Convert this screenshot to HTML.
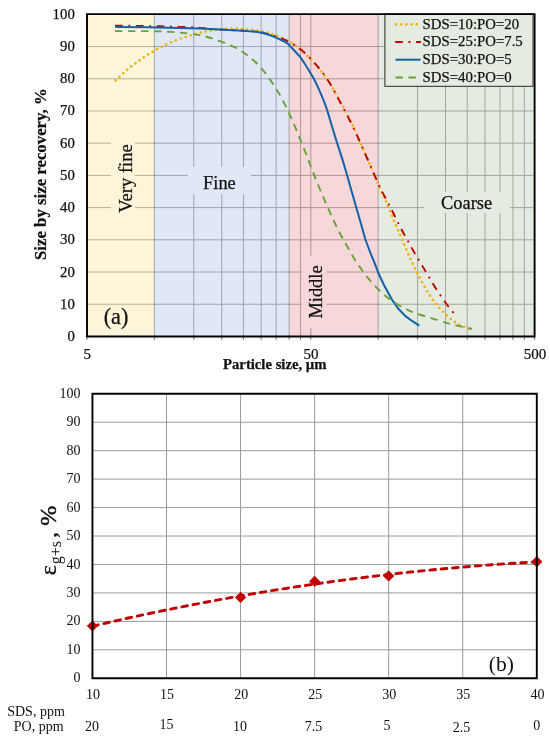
<!DOCTYPE html>
<html><head><meta charset="utf-8"><style>
html,body{margin:0;padding:0;background:#fff;}
svg{display:block;will-change:transform;}
text{font-family:"Liberation Serif",serif;fill:#111;}
.ca text{stroke:#111;stroke-width:0.25px;}
</style></head><body>
<svg width="550" height="740" viewBox="0 0 550 740">
<rect width="550" height="740" fill="#fff"/>
<g class="ca">
<rect x="87" y="14.1" width="67.37" height="322.35" fill="#FDF5DA"/>
<rect x="154.37" y="14.1" width="134.74" height="322.35" fill="#E1E8F5"/>
<rect x="289.11" y="14.1" width="89.06" height="322.35" fill="#F6D8DA"/>
<rect x="378.17" y="14.1" width="156.43" height="322.35" fill="#E5EBE1"/>
<path d="M87,304.24 H154.37 M87,272.03 H154.37 M87,239.82 H154.37 M87,207.61 H154.37 M87,175.4 H154.37 M87,143.19 H154.37 M87,110.98 H154.37 M87,78.77 H154.37 M87,46.56 H154.37" stroke="#b9b196" stroke-width="1" fill="none"/>
<path d="M154.37,304.24 H289.11 M154.37,272.03 H289.11 M154.37,239.82 H289.11 M154.37,207.61 H289.11 M154.37,175.4 H289.11 M154.37,143.19 H289.11 M154.37,110.98 H289.11 M154.37,78.77 H289.11 M154.37,46.56 H289.11 M193.78,14.1 V336.45 M221.74,14.1 V336.45 M243.43,14.1 V336.45 M261.15,14.1 V336.45 M276.13,14.1 V336.45" stroke="#9da4b1" stroke-width="1" fill="none"/>
<path d="M289.11,304.24 H378.17 M289.11,272.03 H378.17 M289.11,239.82 H378.17 M289.11,207.61 H378.17 M289.11,175.4 H378.17 M289.11,143.19 H378.17 M289.11,110.98 H378.17 M289.11,78.77 H378.17 M289.11,46.56 H378.17 M300.56,14.1 V336.45 M310.8,14.1 V336.45" stroke="#b29496" stroke-width="1" fill="none"/>
<path d="M378.17,304.24 H534.6 M378.17,272.03 H534.6 M378.17,239.82 H534.6 M378.17,207.61 H534.6 M378.17,175.4 H534.6 M378.17,143.19 H534.6 M378.17,110.98 H534.6 M378.17,78.77 H534.6 M378.17,46.56 H534.6 M417.58,14.1 V336.45 M445.54,14.1 V336.45 M467.23,14.1 V336.45 M484.95,14.1 V336.45 M499.93,14.1 V336.45 M512.91,14.1 V336.45 M524.36,14.1 V336.45" stroke="#a1a79d" stroke-width="1" fill="none"/>
<path d="M154.37,14.1 V336.45 M289.11,14.1 V336.45 M378.17,14.1 V336.45" stroke="#000" stroke-opacity="0.3" stroke-width="1" fill="none"/>
<path d="M87,336.45 V339.95 M154.37,336.45 V339.95 M193.78,336.45 V339.95 M221.74,336.45 V339.95 M243.43,336.45 V339.95 M261.15,336.45 V339.95 M276.13,336.45 V339.95 M289.11,336.45 V339.95 M300.56,336.45 V339.95 M310.8,336.45 V339.95 M378.17,336.45 V339.95 M417.58,336.45 V339.95 M445.54,336.45 V339.95 M467.23,336.45 V339.95 M484.95,336.45 V339.95 M499.93,336.45 V339.95 M512.91,336.45 V339.95 M524.36,336.45 V339.95 M534.6,336.45 V339.95" stroke="#777" stroke-width="1" fill="none"/>
<rect x="111" y="128" width="24" height="100" fill="#FDF5DA"/>
<rect x="188" y="167" width="63" height="27" fill="#E1E8F5"/>
<rect x="302" y="255.5" width="24.5" height="72.5" fill="#F6D8DA"/>
<rect x="424" y="192" width="86" height="21" fill="#E5EBE1"/>
<text transform="translate(132.4,178.5) rotate(-90)" text-anchor="middle" font-size="18.6">Very fine</text>
<text x="219.4" y="189" text-anchor="middle" font-size="18.4">Fine</text>
<text transform="translate(322,292) rotate(-90)" text-anchor="middle" font-size="18.4">Middle</text>
<text x="466.6" y="209.3" text-anchor="middle" font-size="18.4">Coarse</text>
<text x="116" y="324.4" text-anchor="middle" font-size="22.3">(a)</text>
<path d="M115.7,80.4 C116.3,79.82 118.08,78.05 119.3,76.9 C120.52,75.75 121.75,74.65 123,73.5 C124.25,72.35 125.52,71.12 126.8,70 C128.08,68.88 129.38,67.83 130.7,66.8 C132.02,65.77 133.32,64.82 134.7,63.8 C136.08,62.78 137.62,61.72 139,60.7 C140.38,59.68 141.6,58.67 143,57.7 C144.4,56.73 145.95,55.8 147.4,54.9 C148.85,54 150.27,53.17 151.7,52.3 C153.13,51.43 154.48,50.55 156,49.7 C157.52,48.85 159.27,48 160.8,47.2 C162.33,46.4 163.68,45.63 165.2,44.9 C166.72,44.17 168.33,43.48 169.9,42.8 C171.47,42.12 173.02,41.43 174.6,40.8 C176.18,40.17 177.8,39.58 179.4,39 C181,38.42 182.58,37.83 184.2,37.3 C185.82,36.77 187.47,36.28 189.1,35.8 C190.73,35.32 192.35,34.85 194,34.4 C195.65,33.95 197.35,33.5 199,33.1 C200.65,32.7 202.27,32.35 203.9,32 C205.53,31.65 207.12,31.32 208.8,31 C210.48,30.68 212.25,30.37 214,30.1 C215.75,29.83 217.55,29.6 219.3,29.4 C221.05,29.2 222.03,29.03 224.5,28.9 C226.97,28.77 230.77,28.6 234.1,28.6 C237.43,28.6 241.05,28.65 244.5,28.9 C247.95,29.15 251.42,29.62 254.8,30.1 C258.18,30.58 262.28,31.28 264.8,31.8 C267.32,32.32 268.27,32.68 269.9,33.2 C271.53,33.72 272.67,34.13 274.6,34.9 C276.53,35.67 279.18,36.73 281.5,37.8 C283.82,38.87 286.62,40.3 288.5,41.3 C290.38,42.3 291.1,42.68 292.8,43.8 C294.5,44.92 296.72,46.45 298.7,48 C300.68,49.55 303.03,51.58 304.7,53.1 C306.37,54.62 307.18,55.53 308.7,57.1 C310.22,58.67 312.1,60.63 313.8,62.5 C315.5,64.37 317.28,66.33 318.9,68.3 C320.52,70.27 321.95,72.25 323.5,74.3 C325.05,76.35 326.58,78.13 328.2,80.6 C329.82,83.07 331.53,86.18 333.2,89.1 C334.87,92.02 336.53,95.13 338.2,98.1 C339.87,101.07 341.53,103.87 343.2,106.9 C344.87,109.93 346.62,113.22 348.2,116.3 C349.78,119.38 351.32,122.47 352.7,125.4 C354.08,128.33 355.17,130.88 356.5,133.9 C357.83,136.92 359.27,140.18 360.7,143.5 C362.13,146.82 363.67,150.52 365.1,153.8 C366.53,157.08 367.93,160.1 369.3,163.2 C370.67,166.3 371.98,169.38 373.3,172.4 C374.62,175.42 376,178.4 377.2,181.3 C378.4,184.2 379.5,187.47 380.5,189.8 C381.5,192.13 382.38,193.6 383.2,195.3 C384.02,197 384.73,198.42 385.4,200 C386.07,201.58 386.57,203.17 387.2,204.8 C387.83,206.43 388.5,208.2 389.2,209.8 C389.9,211.4 390.72,212.85 391.4,214.4 C392.08,215.95 392.67,217.55 393.3,219.1 C393.93,220.65 394.55,222.15 395.2,223.7 C395.85,225.25 396.53,226.85 397.2,228.4 C397.87,229.95 398.52,231.47 399.2,233 C399.88,234.53 400.62,236.05 401.3,237.6 C401.98,239.15 402.63,240.73 403.3,242.3 C403.97,243.87 404.63,245.43 405.3,247 C405.97,248.57 406.62,250.1 407.3,251.7 C407.98,253.3 408.7,254.98 409.4,256.6 C410.1,258.22 410.78,259.82 411.5,261.4 C412.22,262.98 412.95,264.57 413.7,266.1 C414.45,267.63 415.25,269.12 416,270.6 C416.75,272.08 417.43,273.52 418.2,275 C418.97,276.48 419.78,277.98 420.6,279.5 C421.42,281.02 422.27,282.62 423.1,284.1 C423.93,285.58 424.75,286.95 425.6,288.4 C426.45,289.85 427.32,291.37 428.2,292.8 C429.08,294.23 429.97,295.6 430.9,297 C431.83,298.4 432.8,299.85 433.8,301.2 C434.8,302.55 435.82,303.82 436.9,305.1 C437.98,306.38 439.13,307.65 440.3,308.9 C441.47,310.15 442.7,311.4 443.9,312.6 C445.1,313.8 446.25,314.97 447.5,316.1 C448.75,317.23 450.05,318.35 451.4,319.4 C452.75,320.45 454.18,321.5 455.6,322.4 C457.02,323.3 458.43,324.05 459.9,324.8 C461.37,325.55 462.88,326.23 464.4,326.9 C465.92,327.57 468.23,328.48 469,328.8" stroke="#EFB300" stroke-width="2.7" stroke-dasharray="0 5.2" stroke-linecap="round" fill="none"/>
<path d="M115,25.6 C117.5,25.63 125,25.73 130,25.8 C135,25.87 140,25.92 145,26 C150,26.08 155,26.18 160,26.3 C165,26.42 170,26.55 175,26.7 C180,26.85 185.83,27 190,27.2 C194.17,27.4 195.83,27.58 200,27.9 C204.17,28.22 210.23,28.75 215,29.1 C219.77,29.45 224.05,29.73 228.6,30 C233.15,30.27 238.2,30.47 242.3,30.7 C246.4,30.93 250.17,31.12 253.2,31.4 C256.23,31.68 258.37,32.03 260.5,32.4 C262.63,32.77 264.08,33.12 266,33.6 C267.92,34.08 269.95,34.73 272,35.3 C274.05,35.87 276.22,36.28 278.3,37 C280.38,37.72 282.5,38.68 284.5,39.6 C286.5,40.52 288.38,41.43 290.3,42.5 C292.22,43.57 294.13,44.73 296,46 C297.87,47.27 299.75,48.67 301.5,50.1 C303.25,51.53 304.87,53.05 306.5,54.6 C308.13,56.15 309.72,57.73 311.3,59.4 C312.88,61.07 314.42,62.78 316,64.6 C317.58,66.42 319.23,68.33 320.8,70.3 C322.37,72.27 323.87,74.18 325.4,76.4 C326.93,78.62 328.48,81.08 330,83.6 C331.52,86.12 333,88.77 334.5,91.5 C336,94.23 337.48,97.18 339,100 C340.52,102.82 342.07,105.5 343.6,108.4 C345.13,111.3 346.68,114.42 348.2,117.4 C349.72,120.38 351.27,123.37 352.7,126.3 C354.13,129.23 355.43,132.05 356.8,135 C358.17,137.95 359.52,140.88 360.9,144 C362.28,147.12 363.7,150.5 365.1,153.7 C366.5,156.9 367.93,160.08 369.3,163.2 C370.67,166.32 371.97,169.37 373.3,172.4 C374.63,175.43 375.98,178.5 377.3,181.4 C378.62,184.3 379.87,187.1 381.2,189.8 C382.53,192.5 383.9,194.93 385.3,197.6 C386.7,200.27 388.17,203.03 389.6,205.8 C391.03,208.57 392.42,211.23 393.9,214.2 C395.38,217.17 396.93,220.5 398.5,223.6 C400.07,226.7 401.67,229.77 403.3,232.8 C404.93,235.83 406.63,238.82 408.3,241.8 C409.97,244.78 411.6,247.77 413.3,250.7 C415,253.63 416.78,256.5 418.5,259.4 C420.22,262.3 421.88,265.22 423.6,268.1 C425.32,270.98 427.07,273.82 428.8,276.7 C430.53,279.58 432.2,282.5 434,285.4 C435.8,288.3 437.73,291.28 439.6,294.1 C441.47,296.92 443.45,299.87 445.2,302.3 C446.95,304.73 448.55,306.78 450.1,308.7 C451.65,310.62 453.77,312.95 454.5,313.8" stroke="#C00000" stroke-width="1.9" stroke-dasharray="7.6 5.7 1.9 5.7" fill="none"/>
<path d="M115.5,27.1 C115.5,27.1 145,27.3 145,27.3 C145,27.3 180,27.9 180,27.9 C180,27.9 200,28.5 200,28.5 C200,28.5 215,29.3 215,29.3 C215,29.3 228.6,30 228.6,30 C228.6,30 242.3,30.7 242.3,30.7 C242.3,30.7 253.2,31.4 253.2,31.4 C253.2,31.4 260.5,32.5 260.5,32.5 C260.5,32.5 265,33.5 265,33.5 C265,33.5 269.5,35 269.5,35 C269.5,35 276.8,37.9 276.8,37.9 C276.8,37.9 284.1,41.5 284.1,41.5 C284.1,41.5 288.5,44.2 288.5,44.2 C288.5,44.2 300,56.7 300,56.7 C300,56.7 306.2,66 306.2,66 C306.2,66 313.6,78.2 313.6,78.2 C313.6,78.2 317.3,85.7 317.3,85.7 C317.3,85.7 320.9,93.8 320.9,93.8 C320.9,93.8 324.5,102.6 324.5,102.6 C324.5,102.6 327.3,110.6 327.3,110.6 C327.3,110.6 331.2,123.8 331.2,123.8 C331.2,123.8 337.1,143 337.1,143 C337.1,143 342.5,159.6 342.5,159.6 C342.5,159.6 346.6,173.5 346.6,173.5 C346.6,173.5 351.6,191.2 351.6,191.2 C351.6,191.2 356,206.5 356,206.5 C356,206.5 360.4,221.8 360.4,221.8 C360.4,221.8 365.4,239.5 365.4,239.5 C365.4,239.5 368,246.5 368,246.5 C368,246.5 371,254.5 371,254.5 C371,254.5 375.5,265.3 375.5,265.3 C375.5,265.3 378.6,273.5 378.6,273.5 C378.6,273.5 383.7,284.5 383.7,284.5 C383.7,284.5 392,299.8 392,299.8 C392,299.8 398.4,308.8 398.4,308.8 C398.4,308.8 405.8,316.4 405.8,316.4 C405.8,316.4 412.4,321.2 412.4,321.2 C412.4,321.2 419.3,325.6 419.3,325.6" stroke="#1262AA" stroke-width="2.0" fill="none"/>
<path d="M115,31.1 C118.33,31.1 128.33,31.08 135,31.1 C141.67,31.12 149.12,31.07 155,31.2 C160.88,31.33 165.6,31.62 170.3,31.9 C175,32.18 178.88,32.45 183.2,32.9 C187.52,33.35 192.48,34 196.2,34.6 C199.92,35.2 202.87,35.87 205.5,36.5 C208.13,37.13 209.92,37.73 212,38.4 C214.08,39.07 215.92,39.77 218,40.5 C220.08,41.23 222.5,42.03 224.5,42.8 C226.5,43.57 228,44.2 230,45.1 C232,46 234.57,47.17 236.5,48.2 C238.43,49.23 239.83,50.15 241.6,51.3 C243.37,52.45 245.45,53.87 247.1,55.1 C248.75,56.33 249.87,57.3 251.5,58.7 C253.13,60.1 255.37,62.02 256.9,63.5 C258.43,64.98 259.25,65.95 260.7,67.6 C262.15,69.25 264.23,71.63 265.6,73.4 C266.97,75.17 267.62,76.38 268.9,78.2 C270.18,80.02 272.12,82.52 273.3,84.3 C274.48,86.08 274.92,87.13 276,88.9 C277.08,90.67 278.72,93.02 279.8,94.9 C280.88,96.78 281.5,98.32 282.5,100.2 C283.5,102.08 284.8,104.2 285.8,106.2 C286.8,108.2 287.6,110.25 288.5,112.2 C289.4,114.15 290.32,115.93 291.2,117.9 C292.08,119.87 292.9,121.93 293.8,124 C294.7,126.07 295.75,128.25 296.6,130.3 C297.45,132.35 298.1,134.28 298.9,136.3 C299.7,138.32 300.6,140.43 301.4,142.4 C302.2,144.37 302.88,146.13 303.7,148.1 C304.52,150.07 305.53,152.22 306.3,154.2 C307.07,156.18 307.58,158.03 308.3,160 C309.02,161.97 309.8,163.95 310.6,166 C311.4,168.05 312.27,170.2 313.1,172.3 C313.93,174.4 314.78,176.57 315.6,178.6 C316.42,180.63 317.2,182.55 318,184.5 C318.8,186.45 319.6,188.37 320.4,190.3 C321.2,192.23 321.95,194.1 322.8,196.1 C323.65,198.1 324.42,199.83 325.5,202.3 C326.58,204.77 328.02,208.03 329.3,210.9 C330.58,213.77 331.83,216.57 333.2,219.5 C334.57,222.43 335.88,225.28 337.5,228.5 C339.12,231.72 340.9,235.15 342.9,238.8 C344.9,242.45 347.37,246.7 349.5,250.4 C351.63,254.1 353.45,257.48 355.7,261 C357.95,264.52 360.45,268.07 363,271.5 C365.55,274.93 368.08,278.25 371,281.6 C373.92,284.95 377.32,288.6 380.5,291.6 C383.68,294.6 386.7,297.13 390.1,299.6 C393.5,302.07 397.53,304.48 400.9,306.4 C404.27,308.32 407.23,309.75 410.3,311.1 C413.37,312.45 416.27,313.47 419.3,314.5 C422.33,315.53 425.42,316.35 428.5,317.3 C431.58,318.25 435.08,319.35 437.8,320.2 C440.52,321.05 442.65,321.75 444.8,322.4 C446.95,323.05 448.63,323.57 450.7,324.1 C452.77,324.63 455.07,325.12 457.2,325.6 C459.33,326.08 461.57,326.57 463.5,327 C465.43,327.43 467.38,327.9 468.8,328.2 C470.22,328.5 471.47,328.7 472,328.8" stroke="#68A23A" stroke-width="1.9" stroke-dasharray="7.4 5.6" fill="none"/>
<rect x="384.9" y="14" width="148.1" height="72.3" fill="#E5EBE1" stroke="#2a2a2a" stroke-width="1"/>
<path d="M396,24.3 H421" stroke="#EFB300" stroke-width="2.7" stroke-dasharray="0 5.2" stroke-linecap="round" fill="none"/>
<path d="M395.2,42.0 H421" stroke="#C00000" stroke-width="1.9" stroke-dasharray="7.6 5.7 1.9 5.7" fill="none"/>
<path d="M395.5,59.7 H420.5" stroke="#1262AA" stroke-width="2.0" fill="none"/>
<path d="M395.5,77.5 H421" stroke="#68A23A" stroke-width="1.9" stroke-dasharray="7.4 5.6" fill="none"/>
<text x="422.6" y="28.7" font-size="14.8">SDS=10:PO=20</text>
<text x="422.6" y="46.4" font-size="14.8">SDS=25:PO=7.5</text>
<text x="422.6" y="64.1" font-size="14.8">SDS=30:PO=5</text>
<text x="422.6" y="81.9" font-size="14.8">SDS=40:PO=0</text>
<path d="M87,14.1 V336.45 H534.6 V14.1 Z" fill="none" stroke="#000" stroke-width="1.9"/>
<text x="74.8" y="341.05" text-anchor="end" font-size="14.8">0</text>
<text x="74.8" y="308.81" text-anchor="end" font-size="14.8">10</text>
<text x="74.8" y="276.58" text-anchor="end" font-size="14.8">20</text>
<text x="74.8" y="244.34" text-anchor="end" font-size="14.8">30</text>
<text x="74.8" y="212.11" text-anchor="end" font-size="14.8">40</text>
<text x="74.8" y="179.88" text-anchor="end" font-size="14.8">50</text>
<text x="74.8" y="147.64" text-anchor="end" font-size="14.8">60</text>
<text x="74.8" y="115.41" text-anchor="end" font-size="14.8">70</text>
<text x="74.8" y="83.17" text-anchor="end" font-size="14.8">80</text>
<text x="74.8" y="50.94" text-anchor="end" font-size="14.8">90</text>
<text x="74.8" y="18.7" text-anchor="end" font-size="14.8">100</text>
<text x="87.3" y="359" text-anchor="middle" font-size="15">5</text>
<text x="311.1" y="359" text-anchor="middle" font-size="15">50</text>
<text x="534.9" y="359" text-anchor="middle" font-size="15">500</text>
<text x="274.8" y="369" text-anchor="middle" font-size="14.7" font-weight="bold">Particle size, µm</text>
<text transform="translate(46.1,174.15) rotate(-90)" text-anchor="middle" font-size="16.8" font-weight="bold">Size by size recovery, %</text>
</g>
<path d="M92.45,649.8 H536.8 M92.45,621.36 H536.8 M92.45,592.91 H536.8 M92.45,564.47 H536.8 M92.45,536.02 H536.8 M92.45,507.58 H536.8 M92.45,479.13 H536.8 M92.45,450.69 H536.8 M92.45,422.25 H536.8 M166.51,393.8 V678.25 M240.57,393.8 V678.25 M314.62,393.8 V678.25 M388.68,393.8 V678.25 M462.74,393.8 V678.25" stroke="#9a9a9a" stroke-width="1" fill="none"/>
<path d="M92.45,626.18 L99.86,624.45 L107.26,622.75 L114.67,621.07 L122.07,619.42 L129.48,617.78 L136.88,616.17 L144.29,614.58 L151.7,613.01 L159.1,611.47 L166.51,609.94 L173.91,608.44 L181.32,606.96 L188.73,605.5 L196.13,604.07 L203.54,602.65 L210.94,601.26 L218.35,599.89 L225.75,598.54 L233.16,597.22 L240.57,595.91 L247.97,594.63 L255.38,593.37 L262.78,592.14 L270.19,590.92 L277.6,589.73 L285,588.56 L292.41,587.41 L299.81,586.28 L307.22,585.18 L314.62,584.09 L322.03,583.03 L329.44,581.99 L336.84,580.98 L344.25,579.98 L351.65,579.01 L359.06,578.06 L366.47,577.13 L373.87,576.22 L381.28,575.34 L388.68,574.48 L396.09,573.64 L403.49,572.82 L410.9,572.02 L418.31,571.25 L425.71,570.5 L433.12,569.77 L440.52,569.06 L447.93,568.38 L455.34,567.71 L462.74,567.07 L470.15,566.45 L477.55,565.85 L484.96,565.28 L492.36,564.72 L499.77,564.19 L507.18,563.68 L514.58,563.2 L521.99,562.73 L529.39,562.29 L536.8,561.87" stroke="#C00000" stroke-width="2.9" stroke-dasharray="5.6 5.8" stroke-dashoffset="11.12" stroke-linecap="round" fill="none"/>
<path d="M92.45,620.4 L98.05,626 L92.45,631.6 L86.85,626 Z" fill="#C00000"/>
<path d="M240.57,591.87 L246.17,597.47 L240.57,603.07 L234.97,597.47 Z" fill="#C00000"/>
<path d="M314.62,575.79 L320.23,581.39 L314.62,586.99 L309.02,581.39 Z" fill="#C00000"/>
<path d="M388.68,570.36 L394.28,575.96 L388.68,581.56 L383.08,575.96 Z" fill="#C00000"/>
<path d="M536.8,556.11 L542.4,561.71 L536.8,567.31 L531.2,561.71 Z" fill="#C00000"/>
<path d="M92.45,393.8 V678.25 H536.8 V393.8 Z" fill="none" stroke="#000" stroke-width="1.9"/>
<text x="80.5" y="682.35" text-anchor="end" font-size="14">0</text>
<text x="80.5" y="653.9" text-anchor="end" font-size="14">10</text>
<text x="80.5" y="625.46" text-anchor="end" font-size="14">20</text>
<text x="80.5" y="597.01" text-anchor="end" font-size="14">30</text>
<text x="80.5" y="568.57" text-anchor="end" font-size="14">40</text>
<text x="80.5" y="540.12" text-anchor="end" font-size="14">50</text>
<text x="80.5" y="511.68" text-anchor="end" font-size="14">60</text>
<text x="80.5" y="483.24" text-anchor="end" font-size="14">70</text>
<text x="80.5" y="454.79" text-anchor="end" font-size="14">80</text>
<text x="80.5" y="426.35" text-anchor="end" font-size="14">90</text>
<text x="80.5" y="397.9" text-anchor="end" font-size="14">100</text>
<text x="93.05" y="699.3" text-anchor="middle" font-size="14">10</text>
<text x="167.11" y="699.3" text-anchor="middle" font-size="14">15</text>
<text x="241.17" y="699.3" text-anchor="middle" font-size="14">20</text>
<text x="315.23" y="699.3" text-anchor="middle" font-size="14">25</text>
<text x="389.28" y="699.3" text-anchor="middle" font-size="14">30</text>
<text x="463.34" y="699.3" text-anchor="middle" font-size="14">35</text>
<text x="537.4" y="699.3" text-anchor="middle" font-size="14">40</text>
<text x="92" y="730.8" text-anchor="middle" font-size="14">20</text>
<text x="166.5" y="729.2" text-anchor="middle" font-size="14">15</text>
<text x="240" y="730.8" text-anchor="middle" font-size="14">10</text>
<text x="313.6" y="730.8" text-anchor="middle" font-size="14">7.5</text>
<text x="387" y="730" text-anchor="middle" font-size="14">5</text>
<text x="461.6" y="732.4" text-anchor="middle" font-size="14">2.5</text>
<text x="536.7" y="729.5" text-anchor="middle" font-size="14">0</text>
<text x="64.8" y="716.2" text-anchor="end" font-size="14">SDS, ppm</text>
<text x="63.6" y="730.5" text-anchor="end" font-size="14">PO, ppm</text>
<text x="501.3" y="671" text-anchor="middle" font-size="21.5">(b)</text>
<text transform="translate(55.5,575.2) rotate(-90)" font-size="24" stroke="#111" stroke-width="0.3">ε</text>
<text transform="translate(60.9,564.2) rotate(-90)" font-size="16">g+s</text>
<text transform="translate(55.5,537.9) rotate(-90)" font-size="24" stroke="#111" stroke-width="0.3">,</text>
<text transform="translate(55.5,525.8) rotate(-90)" font-size="24" stroke="#111" stroke-width="0.45">%</text>
</svg>
</body></html>
